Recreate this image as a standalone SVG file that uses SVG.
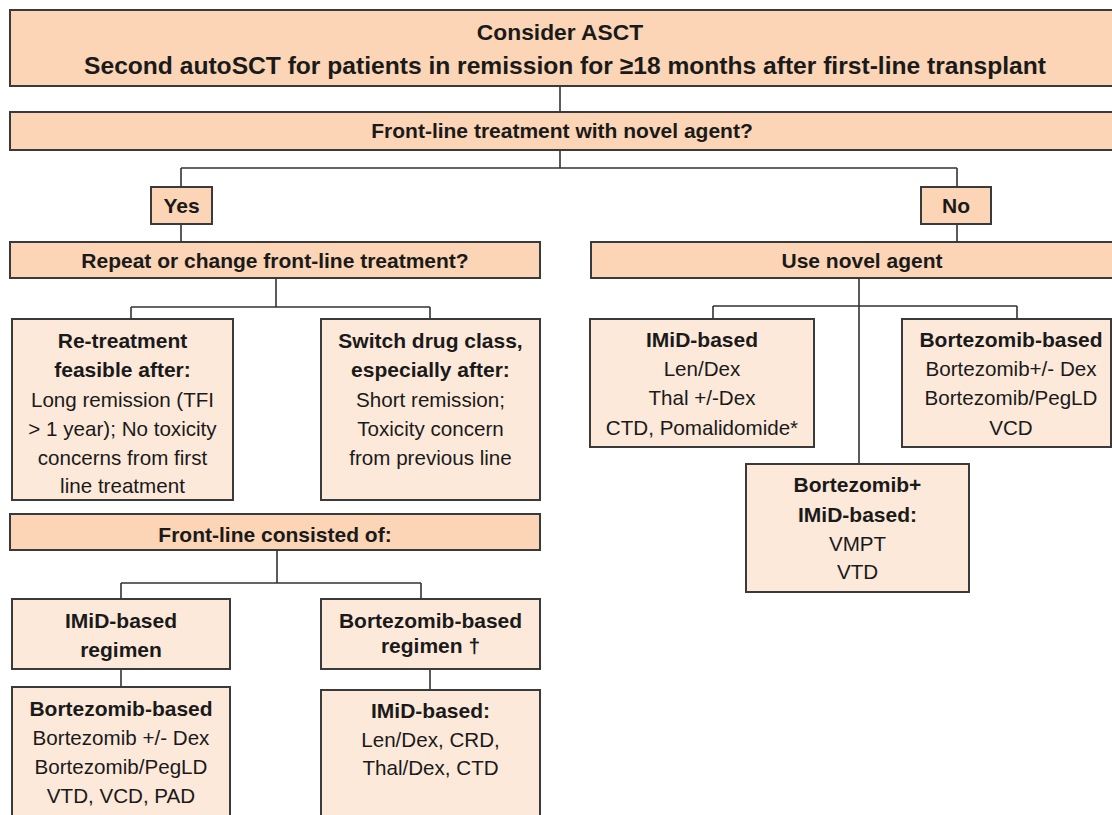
<svg xmlns="http://www.w3.org/2000/svg" width="1112" height="815" viewBox="0 0 1112 815">
<style>
.h{fill:#FBD5B5;stroke:#3a3a3a;stroke-width:2}
.s{fill:#FDE9DA;stroke:#3a3a3a;stroke-width:2}
text{font-family:"Liberation Sans",Arial,sans-serif;fill:#1a1a1a;text-anchor:middle}
.b{font-weight:bold;font-size:21px}
.r{font-size:20.6px}
.t{font-weight:bold;font-size:22.8px}
.t2{font-weight:bold;font-size:24.6px}
#connectors path{fill:none;stroke:#333;stroke-width:1.6}
</style>
<rect width="1112" height="815" fill="#ffffff"/>
<g id="connectors">
<path d="M560,86 V112"/>
<path d="M560,150 V168 M181,168 H957 M181,168 V187 M957,168 V187"/>
<path d="M181,224 V242"/>
<path d="M957,224 V242"/>
<path d="M276,278 V307 M131,307 H430 M131,307 V319 M430,307 V319"/>
<path d="M859,278 V464 M713,306 H1017 M713,306 V319 M1017,306 V319"/>
<path d="M277,550 V583 M121,583 H421 M121,583 V599 M421,583 V599"/>
<path d="M121,669 V687"/>
<path d="M430,669 V690"/>
</g>
<g id="top">
<rect class="h" x="10" y="10" width="1110" height="76"/>
<text class="t" x="560" y="40">Consider ASCT</text>
<text class="t2" x="565" y="74">Second autoSCT for patients in remission for ≥18 months after first-line transplant</text>
</g>
<g id="q1">
<rect class="h" x="10" y="112" width="1110" height="38"/>
<text class="b" x="562" y="138">Front-line treatment with novel agent?</text>
</g>
<g id="yes">
<rect class="h" x="151" y="187" width="61" height="37"/>
<text class="b" x="181.5" y="213">Yes</text>
</g>
<g id="no">
<rect class="h" x="921" y="187" width="70" height="37"/>
<text class="b" x="956" y="213">No</text>
</g>
<g id="repeat">
<rect class="h" x="10" y="242" width="530" height="36"/>
<text class="b" x="275" y="268">Repeat or change front-line treatment?</text>
</g>
<g id="use">
<rect class="h" x="591" y="242" width="530" height="36"/>
<text class="b" x="862" y="268">Use novel agent</text>
</g>
<g id="retreat">
<rect class="s" x="12" y="319" width="221" height="181"/>
<text class="b" x="122.5" y="348">Re-treatment</text>
<text class="b" x="122.5" y="377">feasible after:</text>
<text class="r" x="122.5" y="407">Long remission (TFI</text>
<text class="r" x="122.5" y="436">&gt; 1 year); No toxicity</text>
<text class="r" x="122.5" y="465">concerns from first</text>
<text class="r" x="122.5" y="493">line treatment</text>
</g>
<g id="switch">
<rect class="s" x="321" y="319" width="219" height="181"/>
<text class="b" x="430.5" y="348">Switch drug class,</text>
<text class="b" x="430.5" y="377">especially after:</text>
<text class="r" x="430.5" y="407">Short remission;</text>
<text class="r" x="430.5" y="436">Toxicity concern</text>
<text class="r" x="430.5" y="465">from previous line</text>
</g>
<g id="imid">
<rect class="s" x="590" y="319" width="224" height="128"/>
<text class="b" x="702" y="347">IMiD-based</text>
<text class="r" x="702" y="376">Len/Dex</text>
<text class="r" x="702" y="405">Thal +/-Dex</text>
<text class="r" x="702" y="435">CTD, Pomalidomide*</text>
</g>
<g id="bort">
<rect class="s" x="902" y="319" width="209" height="128"/>
<text class="b" x="1011" y="347">Bortezomib-based</text>
<text class="r" x="1011" y="376">Bortezomib+/- Dex</text>
<text class="r" x="1011" y="405">Bortezomib/PegLD</text>
<text class="r" x="1011" y="435">VCD</text>
</g>
<g id="bortimid">
<rect class="s" x="746" y="464" width="223" height="128"/>
<text class="b" x="857.5" y="492">Bortezomib+</text>
<text class="b" x="857.5" y="522">IMiD-based:</text>
<text class="r" x="857.5" y="551">VMPT</text>
<text class="r" x="857.5" y="579">VTD</text>
</g>
<g id="frontline">
<rect class="h" x="10" y="514" width="530" height="36"/>
<text class="b" x="275" y="542">Front-line consisted of:</text>
</g>
<g id="imidreg">
<rect class="s" x="12" y="599" width="218" height="70"/>
<text class="b" x="121" y="628">IMiD-based</text>
<text class="b" x="121" y="657">regimen</text>
</g>
<g id="bortreg">
<rect class="s" x="321" y="599" width="219" height="70"/>
<text class="b" x="430.5" y="628">Bortezomib-based</text>
<text class="b" x="430.5" y="653">regimen †</text>
</g>
<g id="bortbased">
<rect class="s" x="12" y="687" width="218" height="140"/>
<text class="b" x="121" y="716">Bortezomib-based</text>
<text class="r" x="121" y="745">Bortezomib +/- Dex</text>
<text class="r" x="121" y="774">Bortezomib/PegLD</text>
<text class="r" x="121" y="803">VTD, VCD, PAD</text>
</g>
<g id="imidbased">
<rect class="s" x="321" y="690" width="219" height="140"/>
<text class="b" x="430.5" y="718">IMiD-based:</text>
<text class="r" x="430.5" y="747">Len/Dex, CRD,</text>
<text class="r" x="430.5" y="775">Thal/Dex, CTD</text>
</g>
</svg>
